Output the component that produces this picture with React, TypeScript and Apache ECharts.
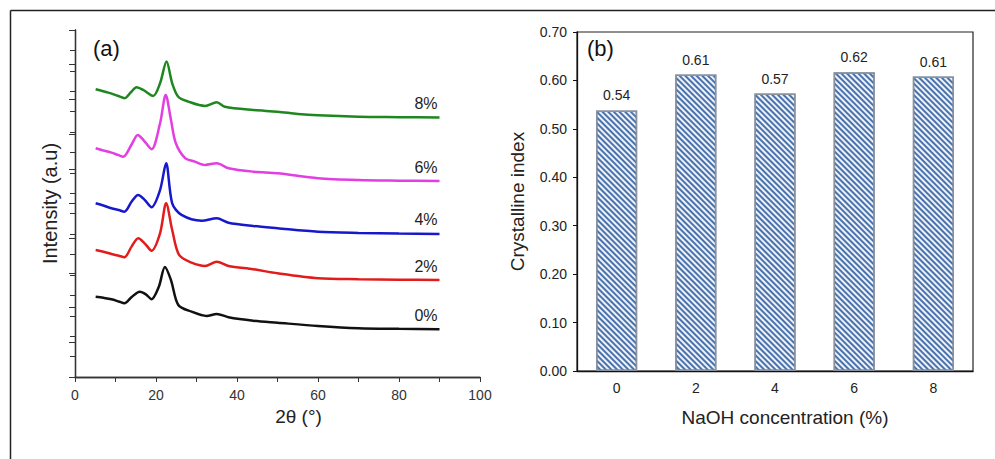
import React, { useEffect, useRef } from "react";
import * as echarts from "echarts";

// Panel (a): XRD patterns, [2θ, intensity (a.u., stacked offsets)]
const xrd0: number[][] = [
  [5.1, 393], [7, 388], [9, 381], [10.8, 370], [12.2, 361], [14, 392], [16, 418], [17.5, 405], [18.9, 381], [20.7, 442],
  [22.2, 539], [23.7, 475], [25.5, 353], [28.8, 320], [32.5, 299], [35, 309], [37.9, 293],
  [44, 276], [50, 266], [60, 250], [70, 239], [80, 236], [90, 234],
];
const xrd2: number[][] = [
  [5.1, 622], [7, 614], [9, 603], [10.8, 594], [12.2, 587], [14, 640], [15.6, 680], [17.2, 655], [18.9, 619], [21, 704],
  [22.5, 851], [24, 720], [25.7, 598], [28.8, 560], [32.1, 544], [35, 565], [37.9, 544],
  [44, 528], [50, 508], [60, 484], [70, 479], [80, 477], [90, 475],
];
const xrd4: number[][] = [
  [5.1, 851], [7, 840], [9, 827], [10.8, 818], [12.2, 810], [14, 860], [15.6, 892], [17.2, 868], [18.9, 832], [21, 916],
  [22.5, 1047], [24, 851], [26.3, 794], [31.3, 766], [35, 778], [37.9, 756],
  [44, 740], [50, 729], [60, 712], [70, 706], [80, 703], [90, 701],
];
const xrd6: number[][] = [
  [5.1, 1121], [7, 1110], [9, 1099], [10.6, 1088], [11.9, 1079], [14, 1140], [15.5, 1186], [16.9, 1161], [18.9, 1116], [21, 1243],
  [22.4, 1382], [23.7, 1259], [24.9, 1145], [27.2, 1072], [29.6, 1055], [32.1, 1039], [35, 1047],
  [37.9, 1023], [44, 1006], [50, 998], [60, 974], [70, 965], [80, 962], [90, 960],
];
const xrd8: number[][] = [
  [5.1, 1410], [8.2, 1393], [10.5, 1378], [12.3, 1366], [13.8, 1395], [15.2, 1420], [16.9, 1406], [19.3, 1377],
  [21, 1439], [22.6, 1546], [24, 1439], [25.5, 1373], [28, 1349], [32.1, 1328], [35, 1346],
  [37, 1324], [44, 1308], [50, 1300], [55, 1289], [60, 1282], [70, 1275], [80, 1273], [90, 1271],
];
const xrdLabels = ["0%", "2%", "4%", "6%", "8%"];
const xrdColors = ["#111111", "#e21c1c", "#1717cc", "#e23ee2", "#1f871f"];

// Panel (b): crystalline index
const naohCategories = ["0", "2", "4", "6", "8"];
const crystallineIndex = [0.538, 0.612, 0.573, 0.617, 0.608];
const yTicksB = { min: 0, max: 0.7, interval: 0.1 };

export default function App() {
  const ref = useRef<HTMLDivElement>(null);

  useEffect(() => {
    if (!ref.current) return;
    const chart = echarts.init(ref.current, undefined, { renderer: "svg" });
    const font = "Liberation Sans, Arial, sans-serif";
    const xrdSets = [xrd0, xrd2, xrd4, xrd6, xrd8];

    const lineSeries = xrdSets.map((d, i) => ({
      type: "line",
      xAxisIndex: 0,
      yAxisIndex: 0,
      data: d,
      showSymbol: false,
      smooth: 0.3,
      lineStyle: { color: xrdColors[i], width: 2.5 },
      z: 3,
      endLabel: {
        show: true,
        formatter: xrdLabels[i],
        align: "right",
        verticalAlign: "middle",
        distance: 0,
        offset: [-2, -14],
        fontSize: 16,
        fontFamily: font,
        color: "#222",
      },
    }));

    chart.setOption({
      animation: false,
      backgroundColor: "#ffffff",
      textStyle: { fontFamily: font },
      grid: [
        { left: 75, top: 30, right: 515, bottom: 82 },
        { left: 577, top: 32, right: 22, bottom: 88, show: true, borderColor: "#222", borderWidth: 1.2 },
      ],
      xAxis: [
        {
          type: "value", gridIndex: 0, min: 0, max: 100, interval: 10,
          name: "2θ (°)", nameLocation: "middle", nameGap: 30,
          nameTextStyle: { fontSize: 19, color: "#222", padding: [0, 0, 0, 42] },
          axisLine: { lineStyle: { color: "#333", width: 1.3 } },
          axisTick: { length: 4, lineStyle: { color: "#333" } },
          axisLabel: {
            fontSize: 14, color: "#333", margin: 11,
            formatter: (v: number) => (v % 20 === 0 ? String(v) : ""),
          },
          splitLine: { show: false },
        },
        {
          type: "value", gridIndex: 0, position: "top", min: 0, max: 100, interval: 10,
          axisLine: { show: true, lineStyle: { color: "#333", width: 1.3 } },
          axisTick: { show: true, inside: true, length: 5, lineStyle: { color: "#333" } },
          axisLabel: { show: false },
          splitLine: { show: false },
        },
        {
          type: "category", gridIndex: 1, data: naohCategories,
          name: "NaOH concentration (%)", nameLocation: "middle", nameGap: 37,
          nameTextStyle: { fontSize: 19, color: "#222", padding: [0, 0, 0, 20] },
          axisLine: { lineStyle: { color: "#111", width: 1.3 } },
          axisTick: { length: 5, lineStyle: { color: "#111" } },
          axisLabel: { fontSize: 14, color: "#222", margin: 10 },
        },
      ],
      yAxis: [
        {
          type: "value", gridIndex: 0, min: 0, max: 1700, interval: 100,
          name: "Intensity (a.u)", nameLocation: "middle", nameGap: 15,
          nameTextStyle: { fontSize: 20, color: "#222" },
          axisLine: { show: true, lineStyle: { color: "#333", width: 1.3 } },
          axisTick: { show: true, length: 5, lineStyle: { color: "#333" } },
          axisLabel: { show: false },
          splitLine: { show: false },
        },
        {
          type: "value", gridIndex: 0, position: "right", min: 0, max: 10, interval: 1,
          axisLine: { show: true, lineStyle: { color: "#333", width: 1.3 } },
          axisTick: { show: true, inside: true, length: 6, lineStyle: { color: "#333" } },
          axisLabel: { show: false },
          splitLine: { show: false },
        },
        {
          type: "value", gridIndex: 1, ...yTicksB,
          name: "Crystalline index", nameLocation: "middle", nameGap: 50,
          nameTextStyle: { fontSize: 19, color: "#222" },
          axisLine: { show: true, lineStyle: { color: "#111", width: 1.3 } },
          axisTick: { show: true, length: 4, lineStyle: { color: "#111" } },
          axisLabel: { fontSize: 14, color: "#222", margin: 10, formatter: (v: number) => v.toFixed(2) },
          splitLine: { show: false },
        },
      ],
      series: [
        ...lineSeries,
        {
          type: "bar",
          xAxisIndex: 2,
          yAxisIndex: 2,
          data: crystallineIndex,
          barWidth: "52%",
          itemStyle: {
            color: "#eef2f9",
            borderColor: "#8a929e",
            borderWidth: 1.5,
            decal: {
              symbol: "rect",
              symbolSize: 1,
              color: "#4a72ad",
              dashArrayX: [1, 0],
              dashArrayY: [1.1, 1.4],
              rotation: Math.PI / 4,
            },
          },
          label: {
            show: true,
            position: "top",
            distance: 8,
            fontSize: 14,
            color: "#222",
            formatter: (p: any) => Number(p.value).toFixed(2),
          },
        },
      ],
      graphic: [
        { type: "line", shape: { x1: 10.5, y1: 10.5, x2: 995, y2: 10.5 }, style: { stroke: "#222", lineWidth: 1.5 } },
        { type: "line", shape: { x1: 10.5, y1: 10.5, x2: 10.5, y2: 459 }, style: { stroke: "#222", lineWidth: 1.5 } },
        { type: "text", left: 93, top: 37, style: { text: "(a)", fontSize: 22, fill: "#111", fontFamily: font } },
        { type: "text", left: 587, top: 37, style: { text: "(b)", fontSize: 22, fill: "#111", fontFamily: font } },
      ],
    });

    return () => chart.dispose();
  }, []);

  return (
    <div
      ref={ref}
      style={{ position: "fixed", left: 0, top: 0, width: 995, height: 459, background: "#fff" }}
    />
  );
}
